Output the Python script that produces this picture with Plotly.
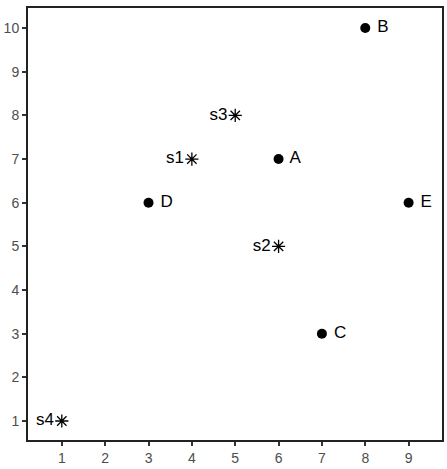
import plotly.graph_objects as go

pt_labels = ["A", "B", "C", "D", "E"]
pt_x = [6, 8, 7, 3, 9]
pt_y = [7, 10, 3, 6, 6]

st_labels = ["s1", "s2", "s3", "s4"]
st_x = [4, 6, 5, 1]
st_y = [7, 5, 8, 1]

x_ticks = [1, 2, 3, 4, 5, 6, 7, 8, 9]
y_ticks = [1, 2, 3, 4, 5, 6, 7, 8, 9, 10]

FONT = "Liberation Sans, Arial, sans-serif"

fig = go.Figure()
fig.add_trace(go.Scatter(
    x=pt_x, y=pt_y, text=[" " + t for t in pt_labels], mode="markers+text",
    textposition="middle right",
    marker=dict(symbol="circle", size=10, color="black"),
    textfont=dict(size=17, color="black", family=FONT),
    showlegend=False, cliponaxis=False,
))
fig.add_trace(go.Scatter(
    x=st_x, y=st_y, text=st_labels, mode="markers+text",
    textposition="middle left",
    marker=dict(symbol="asterisk-open", size=11, color="black", line=dict(width=1.3, color="black")),
    textfont=dict(size=17, color="black", family=FONT),
    showlegend=False, cliponaxis=False,
))

axis_common = dict(
    showgrid=False, zeroline=False, showline=True, mirror=True,
    linecolor="#222222", linewidth=2,
    ticks="outside", ticklen=4, tickwidth=1.5, tickcolor="#333333",
    tickfont=dict(size=14, color="#4d4d4d", family=FONT),
)
fig.update_xaxes(range=[0.22, 9.77], tickvals=x_ticks, **axis_common)
fig.update_yaxes(range=[0.565, 10.46], tickvals=y_ticks, **axis_common)

fig.update_layout(
    width=447, height=469,
    margin=dict(l=28, r=3, t=8, b=29),
    plot_bgcolor="white", paper_bgcolor="white",
)
fig.write_html("out.html")
